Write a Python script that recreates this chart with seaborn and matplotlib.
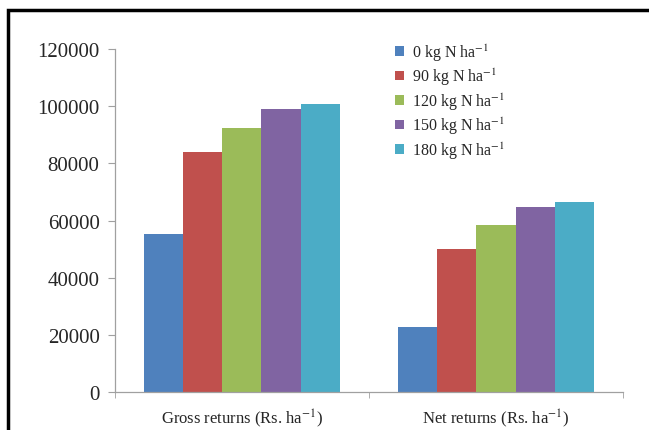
import pandas as pd
import seaborn as sns
import matplotlib.pyplot as plt
from matplotlib.patches import Rectangle

categories = ['Gross returns (Rs. ha$^{-1}$)', 'Net returns (Rs. ha$^{-1}$)']
doses = ['0 kg N ha$^{-1}$', '90 kg N ha$^{-1}$', '120 kg N ha$^{-1}$',
         '150 kg N ha$^{-1}$', '180 kg N ha$^{-1}$']
gross = [55300, 84000, 92300, 99000, 100900]
net = [22700, 50100, 58500, 64900, 66400]
colors = ['#4F81BD', '#C0504D', '#9BBB59', '#8064A2', '#4BACC6']

rows = []
for d, g, n in zip(doses, gross, net):
    rows.append({'cat': categories[0], 'dose': d, 'value': g})
    rows.append({'cat': categories[1], 'dose': d, 'value': n})
df = pd.DataFrame(rows)

sns.set_style('white')
plt.rcParams['font.family'] = ['Liberation Serif', 'DejaVu Serif']
plt.rcParams['mathtext.fontset'] = 'stix'

fig = plt.figure(figsize=(6.49, 4.31), dpi=100)
ax = fig.add_axes([0.177, 0.088, 0.783, 0.796])
sns.barplot(data=df, x='cat', y='value', hue='dose', order=categories,
            hue_order=doses, palette=colors, width=0.77, saturation=1,
            linewidth=0, ax=ax, legend=True)

ax.set_ylim(0, 120000)
ax.set_xlim(-0.5, 1.5)
ax.set_yticks(range(0, 120001, 20000))
ax.set_xlabel('')
ax.set_ylabel('')
for s in ['top', 'right']:
    ax.spines[s].set_visible(False)
for s in ['left', 'bottom']:
    ax.spines[s].set_color('#a0a0a0')
    ax.spines[s].set_linewidth(0.9)
ax.tick_params(axis='y', which='major', left=True, length=5, color='#a0a0a0',
               labelsize=15, pad=6)
ax.tick_params(axis='x', which='major', bottom=False, labelsize=12, pad=7)
ax.set_xticks([-0.5, 0.5, 1.5], minor=True)
ax.tick_params(axis='x', which='minor', bottom=True, length=4, color='#a0a0a0')

ax.legend(frameon=False, loc='upper left', bbox_to_anchor=(0.53, 1.055),
          fontsize=11.5, handlelength=0.55, handleheight=0.55, handletextpad=0.5,
          labelspacing=0.2, borderpad=0.2)

fig.patches.append(Rectangle((8 / 649, -0.1), 1.2, (420 / 431) + 0.1,
                             transform=fig.transFigure, fill=False,
                             edgecolor='black', linewidth=2.5))

fig.savefig('out.png', dpi=100)
